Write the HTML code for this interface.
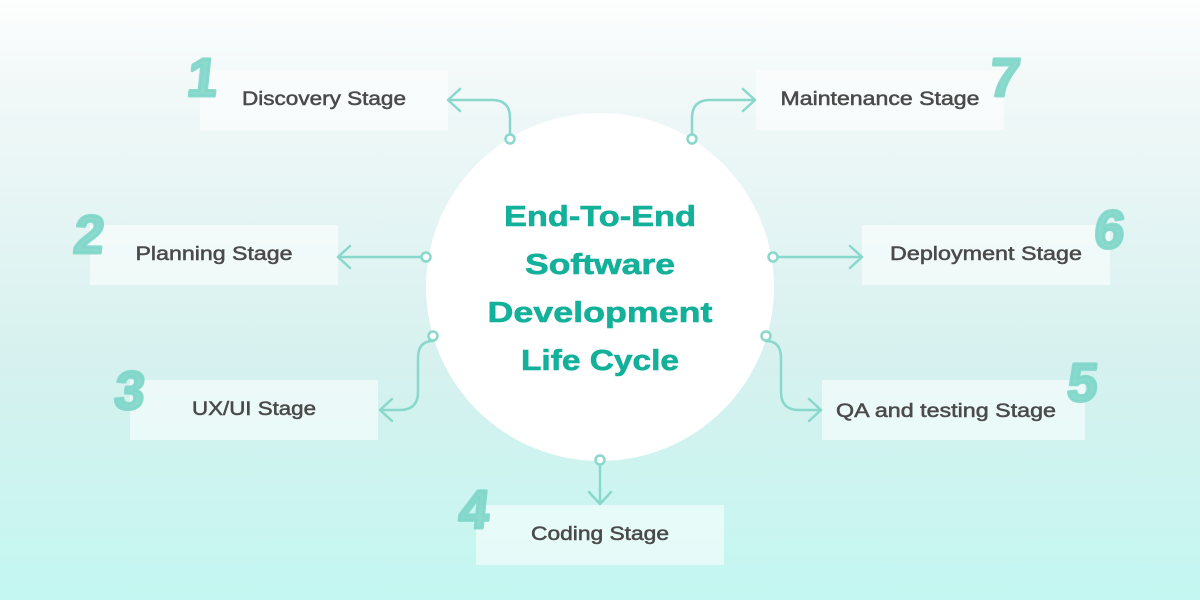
<!DOCTYPE html>
<html><head><meta charset="utf-8"><style>
html,body{margin:0;padding:0;width:1200px;height:600px;overflow:hidden}
</style></head><body>
<svg width="1200" height="600" viewBox="0 0 1200 600" xmlns="http://www.w3.org/2000/svg">
<defs>
<linearGradient id="bg" x1="0" y1="0" x2="0" y2="1">
<stop offset="0" stop-color="#fdfefe"/>
<stop offset="0.15" stop-color="#f1f8f8"/>
<stop offset="0.6" stop-color="#d6f1ef"/>
<stop offset="1" stop-color="#c4f7f1"/>
</linearGradient>
</defs>
<rect width="1200" height="600" fill="url(#bg)"/>
<g fill="#ffffff" fill-opacity="0.55">
<rect x="200" y="70" width="248" height="60"/>
<rect x="756" y="70" width="248" height="60"/>
<rect x="90" y="225" width="248" height="60"/>
<rect x="862" y="225" width="248" height="60"/>
<rect x="130" y="380" width="248" height="60"/>
<rect x="822" y="380" width="263" height="60"/>
<rect x="476" y="505" width="248" height="60"/>
</g>
<circle cx="600" cy="287" r="174" fill="#ffffff"/>
<g font-family="Liberation Sans, sans-serif" font-weight="bold" font-size="54" fill="#7fd6c9" fill-opacity="0.9" stroke="#7fd6c9" stroke-opacity="0.9" stroke-width="3" stroke-linejoin="round">
<text x="186" y="96" transform="skewX(-6) translate(10,0)">1</text>
<text x="988" y="96" transform="skewX(-6) translate(10,0)">7</text>
<text x="72" y="253" transform="skewX(-6) translate(27,0)">2</text>
<text x="1093" y="248" transform="skewX(-6) translate(26,0)">6</text>
<text x="113" y="409" transform="skewX(-6) translate(43,0)">3</text>
<text x="1066" y="401" transform="skewX(-6) translate(42,0)">5</text>
<text x="457" y="528" transform="skewX(-6) translate(56,0)">4</text>
</g>
<g fill="none" stroke="#8ad8cc" stroke-width="2.5" stroke-linecap="round" stroke-linejoin="round">
<path d="M510 134 V118 Q510 100 492 100 H448 M460 89 L448 100 L460 111"/>
<path d="M692 134 V118 Q692 100 710 100 H755 M743 89 L755 100 L743 111"/>
<path d="M421 257 H338 M350 246 L338 257 L350 268"/>
<path d="M778 257 H862 M850 246 L862 257 L850 268"/>
<path d="M433 341 Q418 341 418 358 V392 Q418 410 400 410 H380 M392 399 L380 410 L392 421"/>
<path d="M766 341 Q781 341 781 358 V392 Q781 410 799 410 H821 M809 399 L821 410 L809 421"/>
<path d="M600 465 V504 M589 492 L600 504 L611 492"/>
</g>
<g fill="#ffffff" stroke="#8ad8cc" stroke-width="2.5">
<circle cx="510" cy="139" r="4.5"/>
<circle cx="692" cy="139" r="4.5"/>
<circle cx="426" cy="257" r="4.5"/>
<circle cx="773" cy="257" r="4.5"/>
<circle cx="433" cy="336" r="4.5"/>
<circle cx="766" cy="336" r="4.5"/>
<circle cx="600" cy="460" r="4.5"/>
</g>
<g font-family="Liberation Sans, sans-serif" font-weight="bold" font-size="29" fill="#13b09a" stroke="#13b09a" stroke-width="0.6" text-anchor="middle">
<text x="600" y="226" textLength="192" lengthAdjust="spacingAndGlyphs">End-To-End</text>
<text x="600" y="274" textLength="150" lengthAdjust="spacingAndGlyphs">Software</text>
<text x="600" y="322" textLength="225" lengthAdjust="spacingAndGlyphs">Development</text>
<text x="600" y="370" textLength="158" lengthAdjust="spacingAndGlyphs">Life Cycle</text>
</g>
<g font-family="Liberation Sans, sans-serif" font-size="19" fill="#4a4a4a" stroke="#4a4a4a" stroke-width="0.5" text-anchor="middle">
<text x="324" y="105" textLength="164" lengthAdjust="spacingAndGlyphs">Discovery Stage</text>
<text x="880" y="105" textLength="199" lengthAdjust="spacingAndGlyphs">Maintenance Stage</text>
<text x="214" y="260" textLength="157" lengthAdjust="spacingAndGlyphs">Planning Stage</text>
<text x="986" y="260" textLength="192" lengthAdjust="spacingAndGlyphs">Deployment Stage</text>
<text x="254" y="415" textLength="124" lengthAdjust="spacingAndGlyphs">UX/UI Stage</text>
<text x="946" y="417" textLength="220" lengthAdjust="spacingAndGlyphs">QA and testing Stage</text>
<text x="600" y="540" textLength="138" lengthAdjust="spacingAndGlyphs">Coding Stage</text>
</g>
</svg>
</body></html>
